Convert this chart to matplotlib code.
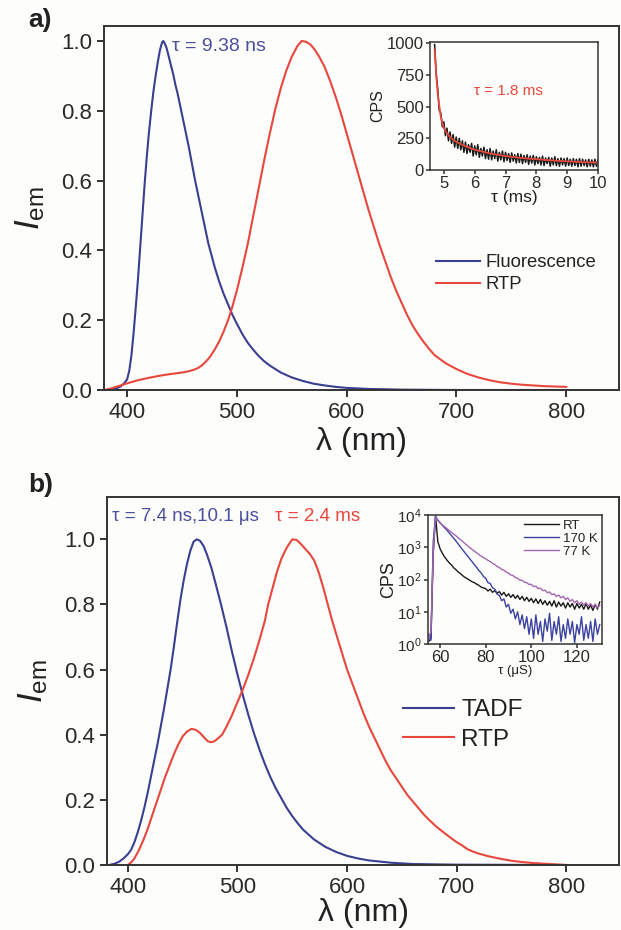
import numpy as np
import matplotlib
matplotlib.use("Agg")
import matplotlib.pyplot as plt

plt.rcParams['font.family'] = ['Liberation Sans', 'DejaVu Sans']
plt.rcParams['mathtext.fontset'] = 'custom'
plt.rcParams['mathtext.rm'] = 'Liberation Sans'
plt.rcParams['mathtext.it'] = 'Liberation Sans:italic'

# ---------------- Panel a data ----------------
wl_a_fl = [380, 385, 390, 394, 397, 400, 402, 404, 406, 408, 410, 412, 414, 416, 418, 420, 422, 424, 426, 428,
           430, 432, 433, 434, 436, 438, 440, 442, 444, 446, 448, 450, 453, 456, 459, 462, 465, 468, 471, 474,
           477, 480, 484, 488, 492, 496, 500, 505, 510, 515, 520, 525, 530, 540, 550, 560, 570, 580, 590, 600,
           620, 650, 700, 800]
fl_a = [0.0, 0.001, 0.004, 0.01, 0.018, 0.03, 0.055, 0.10, 0.165, 0.24, 0.32, 0.41, 0.50, 0.59, 0.67, 0.74, 0.80, 0.855, 0.90, 0.94,
        0.975, 0.997, 1.0, 0.995, 0.98, 0.955, 0.93, 0.905, 0.875, 0.85, 0.82, 0.79, 0.745, 0.70, 0.65, 0.60, 0.555, 0.51, 0.465, 0.42,
        0.385, 0.35, 0.31, 0.275, 0.245, 0.215, 0.19, 0.16, 0.135, 0.115, 0.097, 0.082, 0.07, 0.05, 0.036, 0.026, 0.018, 0.013, 0.009, 0.006,
        0.003, 0.001, 0.0, 0.0]

wl_a_rtp = [380, 385, 390, 395, 400, 410, 420, 430, 440, 450, 455, 460, 464, 468, 472, 476, 480, 484, 488, 492,
            496, 500, 505, 510, 515, 520, 525, 530, 535, 540, 545, 550, 555, 559, 563, 567, 571, 575, 580, 585,
            590, 595, 600, 605, 610, 615, 620, 625, 630, 635, 640, 645, 650, 655, 660, 665, 670, 675, 680, 690,
            700, 710, 720, 730, 740, 750, 760, 770, 780, 790, 800]
rtp_a = [0.0, 0.004, 0.009, 0.014, 0.019, 0.028, 0.035, 0.041, 0.046, 0.05, 0.053, 0.057, 0.062, 0.07, 0.082, 0.097, 0.117, 0.14, 0.168, 0.20,
         0.24, 0.285, 0.35, 0.42, 0.50, 0.58, 0.66, 0.735, 0.805, 0.865, 0.915, 0.955, 0.985, 1.0, 0.998, 0.99, 0.975, 0.955, 0.925, 0.885,
         0.84, 0.79, 0.735, 0.68, 0.625, 0.57, 0.515, 0.465, 0.415, 0.37, 0.325, 0.285, 0.25, 0.215, 0.185, 0.16, 0.138, 0.118, 0.10, 0.077,
         0.06, 0.046, 0.036, 0.028, 0.022, 0.018, 0.015, 0.013, 0.011, 0.01, 0.009]

# inset a: RTP decay (ms, CPS)
t_a = [4.70, 4.75, 4.80, 4.85, 4.90, 4.95, 5.00, 5.05, 5.10, 5.15, 5.20, 5.25, 5.30, 5.35, 5.40, 5.45, 5.50, 5.55,
       5.60, 5.65, 5.70, 5.75, 5.80, 5.85, 5.90, 5.95, 6.00, 6.05, 6.10, 6.15, 6.20, 6.25, 6.30, 6.35, 6.40, 6.45,
       6.50, 6.55, 6.60, 6.65, 6.70, 6.75, 6.80, 6.85, 6.90, 6.95, 7.00, 7.05, 7.10, 7.15, 7.20, 7.25, 7.30, 7.35,
       7.40, 7.45, 7.50, 7.55, 7.60, 7.65, 7.70, 7.75, 7.80, 7.85, 7.90, 7.95, 8.00, 8.05, 8.10, 8.15, 8.20, 8.25,
       8.30, 8.35, 8.40, 8.45, 8.50, 8.55, 8.60, 8.65, 8.70, 8.75, 8.80, 8.85, 8.90, 8.95, 9.00, 9.05, 9.10, 9.15,
       9.20, 9.25, 9.30, 9.35, 9.40, 9.45, 9.50, 9.55, 9.60, 9.65, 9.70, 9.75, 9.80, 9.85, 9.90, 9.95, 10.00]
cps_a = [990, 760, 640, 470, 450, 340, 380, 270, 330, 230, 300, 210, 280, 180, 260, 170, 250, 160,
         230, 140, 220, 130, 200, 140, 210, 110, 190, 120, 200, 100, 170, 110, 180, 90, 160, 85,
         170, 80, 150, 90, 160, 70, 140, 80, 150, 65, 140, 75, 130, 60, 135, 70, 120, 55,
         130, 60, 125, 50, 115, 60, 120, 45, 110, 55, 115, 40, 105, 50, 100, 40, 110, 35,
         95, 50, 100, 30, 95, 40, 105, 35, 90, 30, 95, 40, 90, 30, 95, 35, 85, 30,
         90, 35, 85, 25, 90, 30, 85, 35, 80, 25, 85, 30, 80, 25, 85, 30, 80]
t_fit_a = [4.70, 4.75, 4.80, 4.90, 5.00, 5.10, 5.20, 5.35, 5.50, 5.75, 6.00, 6.50, 7.00, 7.50, 8.00, 8.50, 9.00, 9.50, 10.0]
fit_a = [950, 760, 600, 420, 330, 290, 260, 230, 210, 182, 160, 130, 110, 95, 85, 75, 68, 62, 58]

# ---------------- Panel b data ----------------
wl_b_tadf = [383, 388, 392, 396, 400, 403, 406, 409, 412, 415, 418, 421, 424, 427, 430, 433, 436, 439, 442, 445,
             448, 451, 454, 457, 460, 463, 466, 469, 472, 476, 480, 485, 490, 495, 500, 505, 510, 515, 520, 525,
             530, 535, 540, 545, 550, 555, 560, 570, 580, 590, 600, 610, 620, 640, 660, 700, 800]
tadf_b = [0.0, 0.004, 0.01, 0.02, 0.033, 0.047, 0.07, 0.10, 0.135, 0.175, 0.22, 0.27, 0.32, 0.37, 0.425, 0.48, 0.54, 0.60, 0.67, 0.745,
          0.815, 0.875, 0.925, 0.965, 0.993, 1.0, 0.995, 0.98, 0.955, 0.915, 0.865, 0.80, 0.73, 0.655, 0.585, 0.52, 0.46, 0.405, 0.355, 0.31,
          0.27, 0.235, 0.205, 0.175, 0.15, 0.128, 0.108, 0.078, 0.056, 0.04, 0.028, 0.02, 0.014, 0.007, 0.003, 0.001, 0.0]

wl_b_rtp = [400, 403, 406, 410, 414, 418, 422, 426, 430, 434, 438, 442, 446, 450, 454, 458, 462, 466, 470, 473,
            476, 479, 482, 486, 490, 495, 500, 505, 510, 515, 520, 525, 528, 532, 536, 540, 545, 550, 554, 558,
            562, 566, 570, 574, 578, 582, 586, 590, 595, 600, 605, 610, 615, 620, 625, 630, 635, 640, 645, 650,
            655, 660, 665, 670, 675, 680, 685, 690, 695, 700, 705, 710, 715, 720, 730, 740, 750, 760, 770, 780,
            790, 800]
rtp_b = [0.0, 0.008, 0.02, 0.045, 0.075, 0.11, 0.15, 0.19, 0.23, 0.27, 0.305, 0.34, 0.37, 0.395, 0.41, 0.418, 0.415, 0.405, 0.39, 0.38,
         0.377, 0.38, 0.388, 0.40, 0.425, 0.46, 0.50, 0.54, 0.585, 0.635, 0.69, 0.75, 0.80, 0.85, 0.90, 0.94, 0.975, 1.0, 0.998, 0.985,
         0.97, 0.955, 0.935, 0.90, 0.855, 0.805, 0.755, 0.71, 0.655, 0.60, 0.555, 0.51, 0.465, 0.425, 0.39, 0.355, 0.32, 0.29, 0.265, 0.24,
         0.215, 0.195, 0.175, 0.155, 0.138, 0.122, 0.108, 0.095, 0.082, 0.07, 0.06, 0.048, 0.041, 0.035, 0.026, 0.019, 0.013, 0.009, 0.006, 0.004,
         0.002, 0.0]

# inset b: decays (µs, CPS)
t_b = list(range(55, 131))
cps_rt = [1.2, 1.5, 600, 9500, 1500, 900, 650, 500, 400, 330, 280, 230, 200, 170, 150, 130, 115, 105, 95, 85,
          80, 72, 66, 58, 55, 52, 44, 50, 40, 45, 38, 42, 33, 40, 30, 36, 28, 34, 26, 32,
          24, 30, 22, 28, 21, 26, 19, 25, 18, 24, 17, 22, 16, 21, 15, 22, 14, 20, 15, 19,
          13, 19, 14, 18, 12, 18, 13, 17, 12, 18, 12, 16, 11, 17, 12, 20]
cps_170 = [2, 1.3, 1500, 9000, 7000, 5800, 4800, 4000, 3400, 2800, 2300, 1900, 1550, 1250, 1000, 820, 660, 540, 440, 360,
           290, 240, 190, 160, 125, 110, 80, 75, 55, 50, 35, 32, 22, 25, 14, 17, 9, 12, 6, 10,
           4, 8, 3, 7, 2, 6, 1.5, 8, 2, 5, 1.2, 6, 2.5, 9, 1.3, 5, 2, 7, 1.2, 4,
           1.5, 6, 2, 5, 1.1, 4, 2, 7, 1.3, 4, 1.5, 5, 1.2, 6, 2, 4]
cps_77 = [1.5, 2.5, 800, 8500, 6800, 5600, 4900, 4300, 3800, 3300, 2900, 2550, 2250, 1950, 1700, 1480, 1280, 1120, 980, 860,
          760, 670, 600, 530, 480, 440, 390, 360, 315, 290, 255, 235, 205, 195, 170, 158, 138, 132, 115, 110,
          96, 94, 82, 80, 70, 71, 60, 62, 52, 54, 45, 47, 39, 41, 34, 36, 30, 33, 27, 30,
          24, 27, 21, 24, 19, 22, 17, 20, 16, 19, 15, 18, 14, 17, 13, 16]

# ---------------- styling ----------------
BLUE = '#3b3f91'
RED = '#e8473d'
BLACK = '#1a1a1a'
PURPLE = '#a466b0'
AXC = '#333333'
BG = '#fdfdfb'

fig = plt.figure(figsize=(6.21, 9.30), dpi=100, facecolor=BG)


def style_axes(ax, fs, lw=1.4):
    ax.set_facecolor(BG)
    for s in ax.spines.values():
        s.set_linewidth(lw)
        s.set_color(AXC)
    ax.tick_params(direction='out', length=5, width=lw, colors=AXC, labelsize=fs,
                   top=False, right=False, labelcolor='#2a2a2a')


# Panel a main
ax1 = fig.add_axes([104 / 621, 1 - 390 / 930, 515 / 621, 364 / 930])
ax1.plot(wl_a_fl, fl_a, color=BLUE, lw=1.5, label='Fluorescence')
ax1.plot(wl_a_rtp, rtp_a, color=RED, lw=1.5, label='RTP')
ax1.set_xlim(379, 848)
ax1.set_ylim(0, 1.043)
ax1.set_xticks([400, 500, 600, 700, 800])
ax1.set_yticks([0.0, 0.2, 0.4, 0.6, 0.8, 1.0])
ax1.set_yticklabels(['0.0', '0.2', '0.4', '0.6', '0.8', '1.0'])
style_axes(ax1, 16)
ax1.set_xlabel('λ (nm)', fontsize=23, color='#222222', labelpad=3)
ax1.set_ylabel(r'$\mathit{I}_{\mathrm{em}}$', fontsize=25, color='#222222', labelpad=10)
ax1.text(441, 0.983, 'τ = 9.38 ns', color='#4a4f9e', fontsize=14, va='center', ha='left')
leg1 = ax1.legend(loc='upper left', bbox_to_anchor=(0.612, 0.418), frameon=False, fontsize=13.3,
                  handlelength=2.4, handletextpad=0.3, labelspacing=0.25)
for t in leg1.get_texts():
    t.set_color('#222222')
fig.text(28 / 621, 1 - 20 / 930, 'a)', fontsize=19, fontweight='bold', color='#222222', va='center', ha='left')

# Panel a inset
axi1 = fig.add_axes([430 / 621, 1 - 170 / 930, 168 / 621, 128 / 930])
axi1.plot(t_a, cps_a, color=BLACK, lw=1.1)
axi1.plot(t_fit_a, fit_a, color=RED, lw=1.3)
axi1.set_xlim(4.55, 10)
axi1.set_ylim(0, 1010)
axi1.set_xticks([5, 6, 7, 8, 9, 10])
axi1.set_yticks([0, 250, 500, 750, 1000])
style_axes(axi1, 12, lw=1.1)
axi1.tick_params(length=3, pad=1.5)
axi1.set_xlabel('τ (ms)', fontsize=12.5, labelpad=-1, color='#222222')
axi1.set_ylabel('CPS', fontsize=11.5, labelpad=1, color='#222222')
axi1.text(7.1, 620, 'τ = 1.8 ms', color=RED, fontsize=11, ha='center', va='center')

# Panel b main
ax2 = fig.add_axes([107 / 621, 1 - 865 / 930, 512 / 621, 368 / 930])
ax2.plot(wl_b_tadf, tadf_b, color=BLUE, lw=1.5, label='TADF')
ax2.plot(wl_b_rtp, rtp_b, color=RED, lw=1.5, label='RTP')
ax2.set_xlim(381, 848)
ax2.set_ylim(0, 1.13)
ax2.set_xticks([400, 500, 600, 700, 800])
ax2.set_yticks([0.0, 0.2, 0.4, 0.6, 0.8, 1.0])
ax2.set_yticklabels(['0.0', '0.2', '0.4', '0.6', '0.8', '1.0'])
style_axes(ax2, 16)
ax2.set_xlabel('λ (nm)', fontsize=23, color='#222222', labelpad=0)
ax2.set_ylabel(r'$\mathit{I}_{\mathrm{em}}$', fontsize=25, color='#222222', labelpad=10)
ax2.text(385.5, 1.07, 'τ = 7.4 ns,10.1 μs', color='#4a4f9e', fontsize=13.5, va='center', ha='left')
ax2.text(534, 1.07, 'τ = 2.4 ms', color=RED, fontsize=13.5, va='center', ha='left')
leg2 = ax2.legend(loc='upper left', bbox_to_anchor=(0.535, 0.51), frameon=False, fontsize=17.5,
                  handlelength=2.1, handletextpad=0.3, labelspacing=0.3)
for t in leg2.get_texts():
    t.set_color('#222222')
fig.text(28 / 621, 1 - 485 / 930, 'b)', fontsize=19, fontweight='bold', color='#222222', va='center', ha='left')

# Panel b inset
axi2 = fig.add_axes([428 / 621, 1 - 644 / 930, 174 / 621, 129 / 930])
axi2.plot(t_b, cps_rt, color=BLACK, lw=1.0, label='RT')
axi2.plot(t_b, cps_170, color='#3c42a0', lw=1.0, label='170 K')
axi2.plot(t_b, cps_77, color=PURPLE, lw=1.0, label='77 K')
axi2.set_yscale('log')
axi2.set_xlim(54.7, 131)
axi2.set_ylim(1, 1e4)
axi2.set_xticks([60, 80, 100, 120])
axi2.set_yticks([1, 10, 100, 1000, 10000])
axi2.minorticks_off()
style_axes(axi2, 12, lw=1.1)
axi2.tick_params(axis='y', labelsize=11)
axi2.tick_params(length=3, pad=1.5)
axi2.set_xlabel('τ (μS)', fontsize=9.5, labelpad=0, color='#222222')
axi2.set_ylabel('CPS', fontsize=13, labelpad=0, color='#222222')
leg3 = axi2.legend(loc='upper right', frameon=False, fontsize=9.5, handlelength=2.6,
                   handletextpad=0.3, labelspacing=0.05, borderaxespad=0.15, borderpad=0.2)
for t in leg3.get_texts():
    t.set_color('#222222')

fig.savefig('out.png', dpi=100, facecolor=BG)
